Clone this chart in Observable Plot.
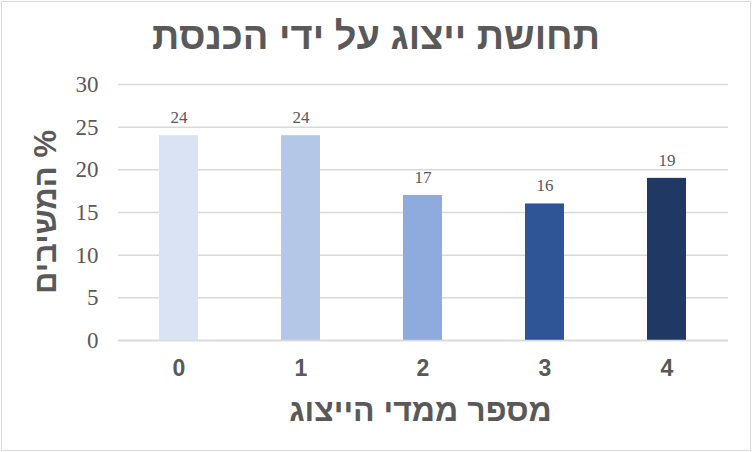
<!DOCTYPE html>
<html><head><meta charset="utf-8">
<script src="https://cdn.jsdelivr.net/npm/d3@7"></script>
<script src="https://cdn.jsdelivr.net/npm/@observablehq/plot@0.6"></script>
<style>
body{margin:0;background:#fff;}
#wrap{position:relative;width:752px;height:452px;overflow:hidden;background:#fff;}
#frame{position:absolute;left:1px;top:1px;width:748px;height:448px;border:1px solid #d9d9d9;pointer-events:none;}
#title{position:absolute;left:0;top:0;width:752px;height:62px;text-align:center;font-family:"Liberation Sans",Arial,sans-serif;font-weight:bold;font-size:38px;color:#595959;line-height:73px;direction:rtl;}
#chart{position:absolute;left:0;top:62px;}
#ylab{position:absolute;left:45px;top:212px;transform:translate(-50%,-50%) rotate(-90deg);white-space:nowrap;font-family:"Liberation Sans",Arial,sans-serif;font-weight:bold;font-size:31px;color:#595959;direction:rtl;line-height:1;}
</style></head>
<body>
<div id="wrap"><div id="title"></div><div id="chart"></div><div id="ylab"></div><div id="frame"></div></div>
<script>
const categories = ["0","1","2","3","4"];
const values = [24, 24, 17, 16, 19];
const colors = ["#dae3f3","#b4c7e7","#8faadc","#2f5597","#203864"];
const yTicks = [0,5,10,15,20,25,30];
const chartTitle = "תחושת ייצוג על ידי הכנסת";
const xTitle = "מספר ממדי הייצוג";
const yTitle = "% המשיבים";

document.getElementById("title").textContent = chartTitle;
document.getElementById("ylab").textContent = yTitle;

const data = categories.map((c,i)=>({cat:c, value:values[i]}));

const chart = Plot.plot({
  width: 752, height: 390,
  marginTop: 22, marginBottom: 112, marginLeft: 118, marginRight: 24,
  style: {background: "transparent"},
  x: {domain: categories, paddingInner: 0.68, paddingOuter: 0.34, label: null},
  y: {domain: [0,30], label: null},
  color: {domain: categories, range: colors},
  marks: [
    Plot.gridY(yTicks, {stroke: "#d9d9d9", strokeOpacity: 1, strokeWidth: 1.5}),
    Plot.barY(data, {x: "cat", y: "value", fill: "cat"}),
    Plot.ruleY([0], {stroke: "#d9d9d9", strokeWidth: 1.5}),
    Plot.axisY(yTicks, {tickSize: 0, tickPadding: 20, fontSize: 23, fontFamily: "Liberation Serif, Times New Roman, serif", fill: "#595959", label: null}),
    Plot.axisX({tickSize: 0, tickPadding: 19, fontSize: 23, fontWeight: "bold", fontFamily: "Liberation Sans, Arial, sans-serif", fill: "#595959", label: null}),
    Plot.text(data, {x: "cat", y: "value", text: d => String(d.value), dy: -18, lineAnchor: "middle", fontSize: 17, fontFamily: "Liberation Serif, Times New Roman, serif", fill: "#595959"}),
    Plot.text([xTitle], {frameAnchor: "bottom", dy: 70, dx: -3, lineAnchor: "middle", fontSize: 32, fontWeight: "bold", fontFamily: "Liberation Sans, Arial, sans-serif", fill: "#595959"})
  ]
});
document.getElementById("chart").appendChild(chart);
</script>
</body></html>
